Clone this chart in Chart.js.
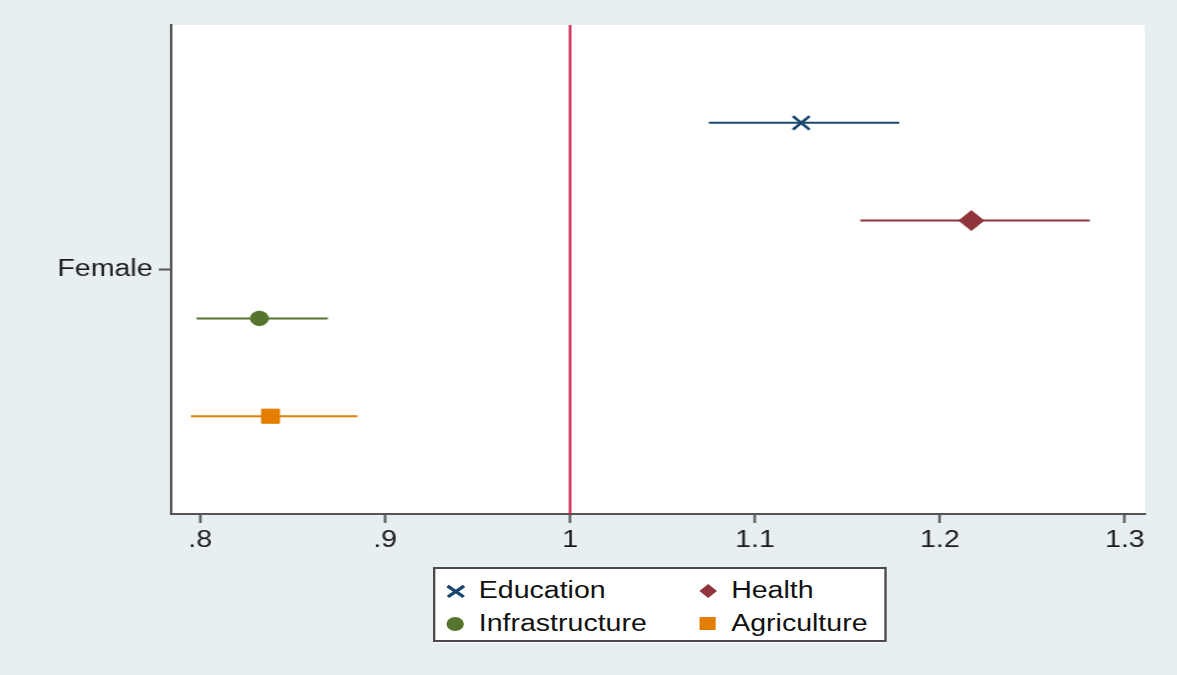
<!DOCTYPE html>
<html lang="en">
<head>
<meta charset="UTF-8">
<title>Female coefficient by sector</title>
<script src="https://cdn.jsdelivr.net/npm/chart.js"></script>
<style>
  html, body { margin: 0; padding: 0; background: #e8eff2; overflow: hidden; }
  /* the original graph is stretched sideways, so draw narrow and stretch */
  #wrap { position: relative; width: 949px; height: 675px; transform: scaleX(1.2403); transform-origin: 0 0;
          font-family: "Liberation Sans", Arial, sans-serif; }
  #legend { position: absolute; left: 349px; top: 567px; width: 366px; height: 75px; box-sizing: border-box;
            background: #fff; border: 2px solid #4a4a4a; }
  .lab { position: absolute; font-size: 23px; line-height: 26px; color: #111; white-space: nowrap; }
  .mk { position: absolute; }
</style>
</head>
<body>
<div id="wrap">
  <canvas id="chart" width="949" height="675"></canvas>
  <div id="legend"></div>
</div>
<script>
// data
const sectors = ['Education', 'Health', 'Infrastructure', 'Agriculture'];
const estimates = [1.125, 1.217, 0.832, 0.838];
const lower = [1.075, 1.157, 0.798, 0.795];
const upper = [1.178, 1.281, 0.869, 0.885];
const rows = [8, 6, 4, 2];            // vertical slot of each estimate
const xTicks = [0.8, 0.9, 1, 1.1, 1.2, 1.3];
const xTickLabels = ['.8', '.9', '1', '1.1', '1.2', '1.3'];
const yTickValue = 5;
const yTickLabel = 'Female';
const refValue = 1;

// styles
const colors = ['#1a476f', '#90353b', '#55752f', '#e37e00'];
const markers = ['crossRot', 'rectRot', 'circle', 'rect'];
const markerSizes = [9.5, 10, 7.2, 10];
const font = { family: '"Liberation Sans", Arial, sans-serif', size: 23 };

const datasets = [];
sectors.forEach((name, i) => {
    datasets.push({
        label: name,
        data: [{ x: estimates[i], y: rows[i] }],
        pointStyle: markers[i],
        pointRadius: markerSizes[i],
        pointBackgroundColor: colors[i],
        pointBorderColor: colors[i],
        pointBorderWidth: markers[i] === 'crossRot' ? 2.5 : 1,
        showLine: false,
        order: 0
    });
    datasets.push({
        label: name + ' CI',
        data: [{ x: lower[i], y: rows[i] }, { x: upper[i], y: rows[i] }],
        showLine: true,
        borderColor: colors[i],
        borderWidth: 2,
        pointRadius: 0,
        order: 1
    });
});
datasets.push({
    label: 'ref',
    data: [{ x: refValue, y: 0 }, { x: refValue, y: 10 }],
    showLine: true,
    borderColor: '#cc1442',
    borderWidth: 2,
    pointRadius: 0,
    order: 2
});

const plotBg = {
    id: 'plotBg',
    beforeDraw(chart) {
        const { ctx, chartArea: a } = chart;
        ctx.save();
        ctx.fillStyle = '#ffffff';
        ctx.fillRect(a.left, a.top, a.right - a.left, a.bottom - a.top);
        ctx.restore();
    }
};

new Chart(document.getElementById('chart'), {
    type: 'scatter',
    data: { datasets: datasets },
    plugins: [plotBg],
    options: {
        responsive: false,
        animation: false,
        layout: { padding: { left: 0, top: 25, right: 26, bottom: 101 } },
        plugins: { legend: { display: false }, tooltip: { enabled: false } },
        scales: {
            x: {
                type: 'linear',
                min: 0.7843,
                max: 1.3108,
                afterBuildTicks: s => { s.ticks = xTicks.map(v => ({ value: v })); },
                afterFit: s => { s.height = 60; },
                ticks: {
                    font: font, color: '#1a1a1a', padding: 4, autoSkip: false, maxRotation: 0,
                    callback: (v, i) => xTickLabels[i]
                },
                grid: { drawOnChartArea: false, drawTicks: true, tickLength: 9, tickWidth: 2, tickColor: '#555' },
                border: { display: true, color: '#555', width: 2 }
            },
            y: {
                type: 'linear',
                min: 0,
                max: 10,
                afterBuildTicks: s => { s.ticks = [{ value: yTickValue }]; },
                afterFit: s => { s.width = 138; },
                ticks: { font: font, color: '#1a1a1a', padding: 5, callback: () => yTickLabel },
                grid: { drawOnChartArea: false, drawTicks: true, tickLength: 10, tickWidth: 2, tickColor: '#555' },
                border: { display: true, color: '#555', width: 2 }
            }
        }
    }
});

// legend box, two columns
const legend = document.getElementById('legend');
const slots = [[16, 22], [219.5, 22], [16, 54.5], [219.5, 54.5]];
sectors.forEach((name, i) => {
    const [cx, cy] = slots[i];
    const c = colors[i];
    let html = '';
    if (markers[i] === 'crossRot') {
        html = `<div class="mk" style="left:${cx - 8.5}px;top:${cy - 1.25}px;width:17px;height:2.5px;background:${c};transform:rotate(40deg)"></div>` +
               `<div class="mk" style="left:${cx - 8.5}px;top:${cy - 1.25}px;width:17px;height:2.5px;background:${c};transform:rotate(-40deg)"></div>`;
    } else if (markers[i] === 'rectRot') {
        html = `<div class="mk" style="left:${cx - 5}px;top:${cy - 5}px;width:10px;height:10px;background:${c};transform:rotate(45deg)"></div>`;
    } else if (markers[i] === 'circle') {
        html = `<div class="mk" style="left:${cx - 7}px;top:${cy - 7}px;width:14px;height:14px;border-radius:50%;background:${c}"></div>`;
    } else {
        html = `<div class="mk" style="left:${cx - 6.5}px;top:${cy - 6.5}px;width:13px;height:13px;background:${c}"></div>`;
    }
    html += `<span class="lab" style="left:${cx + 19}px;top:${cy - 14}px">${name}</span>`;
    legend.insertAdjacentHTML('beforeend', html);
});
</script>
</body>
</html>
